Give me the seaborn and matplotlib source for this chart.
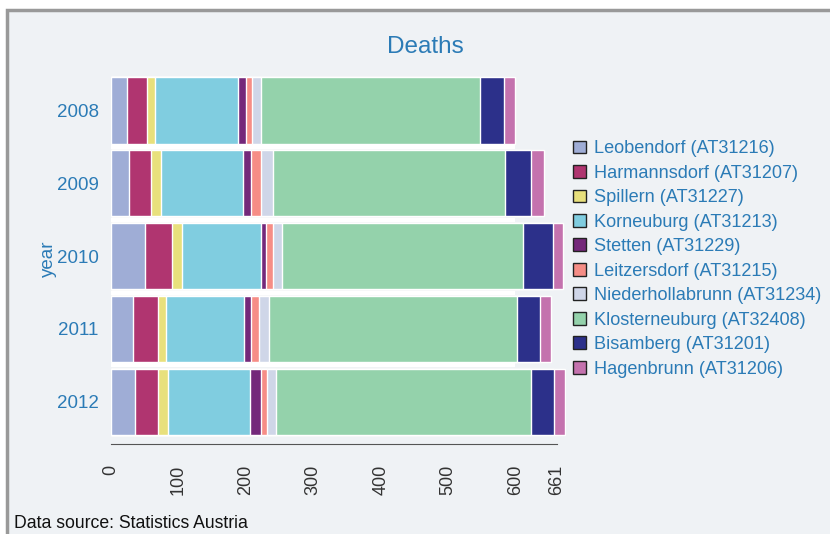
import pandas as pd
from matplotlib import pyplot as plt
from matplotlib.patches import Patch, Rectangle
import seaborn as sns
import numpy as np


years = ['2008', '2009', '2010', '2011', '2012']
places = ['Leobendorf (AT31216)', 'Harmannsdorf (AT31207)', 'Spillern (AT31227)',
          'Korneuburg (AT31213)', 'Stetten (AT31229)', 'Leitzersdorf (AT31215)',
          'Niederhollabrunn (AT31234)', 'Klosterneuburg (AT32408)',
          'Bisamberg (AT31201)', 'Hagenbrunn (AT31206)']
leobendorf = [23, 27, 50, 33, 35]
harmannsdorf = [31, 33, 40, 36, 35]
spillern = [12, 14, 16, 12, 14]
korneuburg = [122, 122, 116, 117, 122]
stetten = [12, 11, 8, 9, 16]
leitzersdorf = [9, 16, 10, 12, 9]
niederhollabrunn = [13, 17, 14, 16, 14]
klosterneuburg = [326, 344, 357, 368, 378]
bisamberg = [35, 39, 44, 34, 34]
hagenbrunn = [17, 20, 16, 16, 16]
x_ticks = [0, 100, 200, 300, 400, 500, 600, 661]

colors = ['#9fadd6', '#b03570', '#e8e07c', '#80cde0', '#74287a',
          '#f68d86', '#cfd6e8', '#94d2ab', '#2c308a', '#c472ae']
bg = '#eff2f5'
blue = '#2b7bb6'

deaths = pd.DataFrame([leobendorf, harmannsdorf, spillern, korneuburg, stetten,
                       leitzersdorf, niederhollabrunn, klosterneuburg,
                       bisamberg, hagenbrunn], index=places, columns=years).T
cum = deaths.cumsum(axis=1)
cum['year'] = years

sns.set_style('white')
plt.rcParams['font.family'] = ['Liberation Sans', 'DejaVu Sans']

fig = plt.figure(figsize=(8.3, 5.34), dpi=100)
fig.patch.set_facecolor('white')
# grey frame around the chart panel
fig.patches.append(Rectangle((7 / 830, -0.1), 1.2, 1.1 - 10 / 534,
                             transform=fig.transFigure, facecolor=bg,
                             edgecolor='#999999', linewidth=2.5, zorder=-5))

ax = fig.add_axes([111 / 830, 1 - 444 / 534, 455 / 830, 370 / 534])
ax.set_zorder(2)
ax.patch.set_alpha(0)

# stacked bars: draw the running totals from the outermost segment inwards
for place, c in reversed(list(zip(places, colors))):
    sns.barplot(data=cum, x=place, y='year', orient='h', color=c,
                width=0.91, saturation=1, ax=ax)

ax.hlines([i + 0.5 for i in range(len(years) - 1)], 0, 600,
          color='white', linewidth=3, zorder=3)

ax.set_xlim(0, 675)
ax.set_ylim(len(years) - 0.42, -0.5)
ax.set_xticks(x_ticks)
ax.set_xticklabels([str(t) for t in x_ticks], rotation=90, fontsize=13,
                   color='#333333')
ax.tick_params(axis='x', length=9, width=1, color='#555555', pad=6)
ax.tick_params(axis='y', length=0, labelsize=13.5, labelcolor=blue, pad=9)
ax.set_xlabel('')
ax.set_ylabel('year', color=blue, fontsize=13.5, labelpad=0)
for s in ['top', 'right', 'left']:
    ax.spines[s].set_visible(False)
ax.spines['bottom'].set_color('#555555')
ax.spines['bottom'].set_bounds(0, 661)

fig.text(0.512, 1 - 47 / 534, 'Deaths', ha='center', va='center',
         fontsize=17.5, color=blue)
fig.text(14 / 830, 1 - 524 / 534, 'Data source: Statistics Austria',
         ha='left', va='center', fontsize=12.7, color='#111111')

handles = [Patch(facecolor=c, edgecolor='#222222', linewidth=1) for c in colors]
fig.legend(handles, places, loc='upper left',
           bbox_to_anchor=(557 / 830, 1 - 124 / 534), frameon=False,
           fontsize=13.1, labelcolor=blue, handlelength=0.7, handleheight=0.7,
           handletextpad=0.45, labelspacing=0.41)

plt.savefig('out.png', dpi=100, facecolor=fig.get_facecolor())
